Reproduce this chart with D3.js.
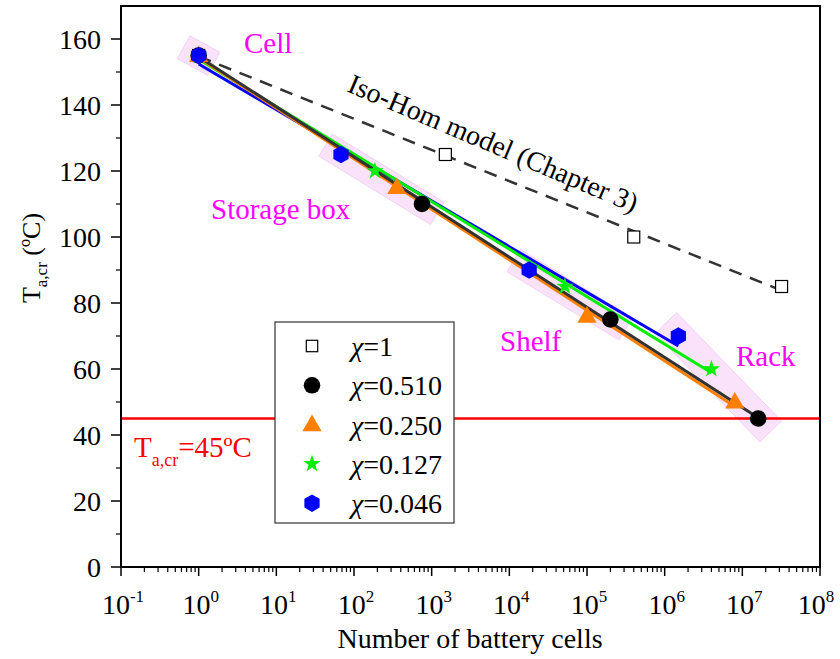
<!DOCTYPE html>
<html>
<head>
<meta charset="utf-8">
<script src="https://cdn.jsdelivr.net/npm/d3@7/dist/d3.min.js"></script>
<style>
  html, body { margin: 0; padding: 0; background: #fff; }
  svg { display: block; }
  text { font-family: "Liberation Serif", "DejaVu Serif", serif; }
</style>
</head>
<body>
<svg id="chart" width="840" height="659"></svg>
<script>
// Number of battery cells for each configuration, per series
const cellsChi1   = [1, 1500, 4e5, 3.2e7];
const tempChi1    = [155, 125, 100, 85];
const cellsChi510 = [1, 750, 2e5, 1.6e7];
const tempChi510  = [155, 110, 75, 45];
const cellsChi250 = [1, 356, 1e5, 8e6];
const tempChi250  = [155, 115, 76, 50];
const cellsChi127 = [1, 186, 5.2e4, 4e6];
const tempChi127  = [155, 120, 85, 60];
const cellsChi046 = [1, 68, 1.8e4, 1.5e6];
const tempChi046  = [155, 125, 90, 70];

const groupNames = ["Cell", "Storage box", "Shelf", "Rack"];
const criticalTemp = 45;
const xTickExponents = [-1, 0, 1, 2, 3, 4, 5, 6, 7, 8];
const yTickValues = [0, 20, 40, 60, 80, 100, 120, 140, 160];

const series = [
  { key: "0.046", cells: cellsChi046, temps: tempChi046, color: "#0000ff", shape: "hexagon" },
  { key: "0.127", cells: cellsChi127, temps: tempChi127, color: "#00ee00", shape: "star" },
  { key: "0.250", cells: cellsChi250, temps: tempChi250, color: "#ff7f00", shape: "triangle" },
  { key: "0.510", cells: cellsChi510, temps: tempChi510, color: "#333333", mark: "#000000", shape: "circle" }
];
const isoHom = { key: "1", cells: cellsChi1, temps: tempChi1, shape: "square" };

const FONT = "'Liberation Serif', 'DejaVu Serif', serif";
const svg = d3.select("#chart").attr("font-family", FONT);
const plotLeft = 121, plotRight = 820, plotTop = 6, plotBottom = 567;

const x = d3.scaleLog().domain([0.1, 1e8]).range([plotLeft, plotRight]);
const y = d3.scaleLinear().domain([0, 170]).range([plotBottom, plotTop]);

// Least-squares fit of temperature against log10(cells)
function fit(cells, temps) {
  const lx = cells.map(Math.log10);
  const mx = d3.mean(lx), my = d3.mean(temps);
  let sxy = 0, sxx = 0;
  lx.forEach((v, i) => { sxy += (v - mx) * (temps[i] - my); sxx += (v - mx) * (v - mx); });
  const b = sxy / sxx, a = my - b * mx;
  const lo = d3.min(cells), hi = d3.max(cells);
  return [[lo, a + b * Math.log10(lo)], [hi, a + b * Math.log10(hi)]];
}

// Shaded bands grouping points of the same configuration level
const bandPad = [[16, 13], [18, 13], [18, 13], [18, 15]];
groupNames.forEach((name, gi) => {
  const pts = series.map(s => [x(s.cells[gi]), y(s.temps[gi])]);
  let p0, p1;
  if (gi === 0) {
    p0 = [pts[0][0] - 1, pts[0][1] - 0.55];
    p1 = [pts[0][0] + 1, pts[0][1] + 0.55];
  } else {
    p0 = pts.reduce((a, b) => (b[0] < a[0] ? b : a));
    p1 = pts.reduce((a, b) => (b[0] > a[0] ? b : a));
  }
  const dx = p1[0] - p0[0], dy = p1[1] - p0[1];
  const len = Math.hypot(dx, dy);
  const ux = dx / len, uy = dy / len, nx = -uy, ny = ux;
  const [pa, hw] = bandPad[gi];
  const s0 = [p0[0] - ux * pa, p0[1] - uy * pa];
  const s1 = [p1[0] + ux * pa, p1[1] + uy * pa];
  const poly = [
    [s0[0] + nx * hw, s0[1] + ny * hw],
    [s1[0] + nx * hw, s1[1] + ny * hw],
    [s1[0] - nx * hw, s1[1] - ny * hw],
    [s0[0] - nx * hw, s0[1] - ny * hw]
  ];
  svg.append("polygon")
    .attr("points", poly.map(p => p.join(",")).join(" "))
    .attr("fill", "#fbe2fb")
    .attr("stroke", "#f1d2f1")
    .attr("stroke-width", 1);
});

// Critical ambient temperature
svg.append("line")
  .attr("x1", plotLeft).attr("x2", plotRight)
  .attr("y1", y(criticalTemp)).attr("y2", y(criticalTemp))
  .attr("stroke", "#ff0000").attr("stroke-width", 2.5);

// Iso-Hom reference fit (dashed)
const lineGen = d3.line().x(d => x(d[0])).y(d => y(d[1]));
svg.append("path")
  .attr("d", lineGen(fit(isoHom.cells, isoHom.temps)))
  .attr("fill", "none").attr("stroke", "#333333")
  .attr("stroke-width", 2.5).attr("stroke-dasharray", "13,9");

// Fitted trend lines
series.forEach(s => {
  svg.append("path")
    .attr("d", lineGen(fit(s.cells, s.temps)))
    .attr("fill", "none").attr("stroke", s.color).attr("stroke-width", 3);
});

// Marker drawing
function hexPath(r) {
  const pts = d3.range(6).map(i => {
    const a = Math.PI / 6 + i * Math.PI / 3;
    return [r * Math.cos(a), r * Math.sin(a)];
  });
  return "M" + pts.map(p => p.join(",")).join("L") + "Z";
}
function drawMarker(g, shape, color, cx, cy, scale) {
  const k = scale || 1;
  if (shape === "circle") {
    g.append("circle").attr("cx", cx).attr("cy", cy).attr("r", 8.3 * k).attr("fill", color);
  } else if (shape === "triangle") {
    g.append("path").attr("d", d3.symbol(d3.symbolTriangle, 160 * k * k)())
      .attr("transform", `translate(${cx},${cy + 1})`).attr("fill", color);
  } else if (shape === "star") {
    g.append("path").attr("d", d3.symbol(d3.symbolStar, 95 * k * k)())
      .attr("transform", `translate(${cx},${cy})`).attr("fill", color);
  } else if (shape === "hexagon") {
    g.append("path").attr("d", hexPath(8.8 * k))
      .attr("transform", `translate(${cx},${cy})`).attr("fill", color);
  } else if (shape === "square") {
    const h = 6 * k;
    g.append("rect").attr("x", cx - h).attr("y", cy - h).attr("width", 2 * h).attr("height", 2 * h)
      .attr("fill", "#fff").attr("stroke", "#000").attr("stroke-width", 1.2);
  }
}

const marks = svg.append("g");
isoHom.cells.forEach((c, i) => drawMarker(marks, "square", "#000", x(c), y(isoHom.temps[i])));
[series[3], series[2], series[1], series[0]].forEach(s => {
  s.cells.forEach((c, i) => drawMarker(marks, s.shape, s.mark || s.color, x(c), y(s.temps[i])));
});

// Frame
svg.append("rect")
  .attr("x", plotLeft).attr("y", plotTop).attr("width", plotRight - plotLeft).attr("height", plotBottom - plotTop)
  .attr("fill", "none").attr("stroke", "#000").attr("stroke-width", 2);

// X axis: decade ticks and minor ticks, outward
const xAxisG = svg.append("g");
xTickExponents.forEach(e => {
  const px = x(Math.pow(10, e));
  xAxisG.append("line").attr("x1", px).attr("x2", px).attr("y1", plotBottom).attr("y2", plotBottom + 9)
    .attr("stroke", "#000").attr("stroke-width", 1.5);
  const t = xAxisG.append("text").attr("x", e === 8 ? px - 4 : px + 2).attr("y", 614)
    .attr("text-anchor", "middle").attr("font-size", 28).attr("fill", "#000");
  t.append("tspan").text("10");
  t.append("tspan").attr("dy", -12).attr("font-size", 17).text(String(e));
  if (e < 8) {
    for (let m = 2; m <= 9; m++) {
      const mx = x(m * Math.pow(10, e));
      xAxisG.append("line").attr("x1", mx).attr("x2", mx).attr("y1", plotBottom).attr("y2", plotBottom + 5)
        .attr("stroke", "#000").attr("stroke-width", 1.2);
    }
  }
});
svg.append("text").attr("x", 470).attr("y", 648).attr("text-anchor", "middle")
  .attr("font-size", 28).attr("fill", "#000").text("Number of battery cells");

// Y axis: major and minor ticks, outward
const yAxisG = svg.append("g");
yTickValues.forEach(v => {
  const py = y(v);
  yAxisG.append("line").attr("x1", plotLeft - 10).attr("x2", plotLeft).attr("y1", py).attr("y2", py)
    .attr("stroke", "#000").attr("stroke-width", 1.5);
  yAxisG.append("text").attr("x", 101).attr("y", py + 9.5).attr("text-anchor", "end")
    .attr("font-size", 28).attr("fill", "#000").text(v);
  if (v + 10 < 170) {
    const my = y(v + 10);
    yAxisG.append("line").attr("x1", plotLeft - 5).attr("x2", plotLeft).attr("y1", my).attr("y2", my)
      .attr("stroke", "#000").attr("stroke-width", 1.2);
  }
});
const yTitle = svg.append("text")
  .attr("transform", "translate(40,258) rotate(-90)")
  .attr("text-anchor", "middle").attr("font-size", 26).attr("fill", "#000");
yTitle.append("tspan").text("T");
yTitle.append("tspan").attr("dy", 7).attr("font-size", 17).text("a,cr");
yTitle.append("tspan").attr("dy", -7).text(" (ºC)");

// Configuration labels
const labelPos = [[244, 53], [211, 219], [500, 351], [736, 366]];
groupNames.forEach((name, i) => {
  svg.append("text").attr("x", labelPos[i][0]).attr("y", labelPos[i][1])
    .attr("font-size", 29).attr("fill", "#ff00ff").text(name);
});

// Iso-Hom model annotation
svg.append("text")
  .attr("transform", "translate(346,91) rotate(23)")
  .attr("font-size", 28).attr("fill", "#000").text("Iso-Hom model (Chapter 3)");

// Critical temperature annotation
const critLabel = svg.append("text").attr("x", 134).attr("y", 457)
  .attr("font-size", 29).attr("fill", "#ff0000");
critLabel.append("tspan").text("T");
critLabel.append("tspan").attr("dy", 9).attr("font-size", 18).text("a,cr");
critLabel.append("tspan").attr("dy", -9).text("=" + criticalTemp + "ºC");

// Legend
const legend = svg.append("g");
legend.append("rect").attr("x", 275).attr("y", 322).attr("width", 179).attr("height", 201)
  .attr("fill", "#fff").attr("stroke", "#333").attr("stroke-width", 1.2);
const legendItems = [isoHom, series[3], series[2], series[1], series[0]];
legendItems.forEach((s, i) => {
  const cy = 346 + i * 39.3;
  drawMarker(legend, s.shape, s.mark || s.color || "#000", 312, cy, s.shape === "square" ? 0.95 : 1);
  const t = legend.append("text").attr("x", 351).attr("y", cy + 10)
    .attr("font-size", 28).attr("fill", "#000");
  t.append("tspan").attr("font-style", "italic").text("χ");
  t.append("tspan").text("=" + s.key);
});
</script>
</body>
</html>
